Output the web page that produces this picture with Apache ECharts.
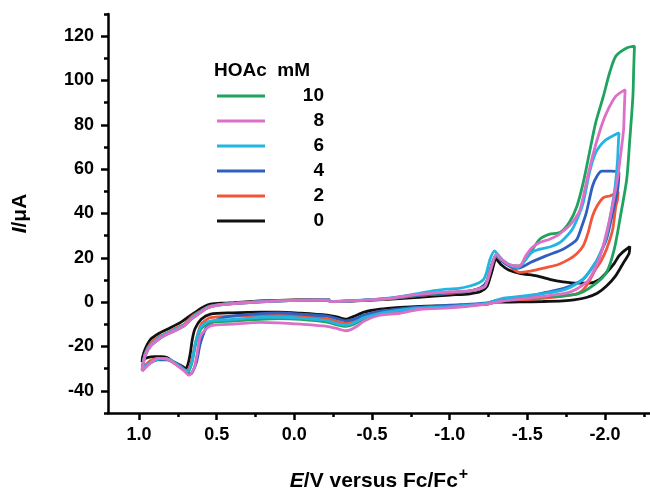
<!DOCTYPE html>
<html><head><meta charset="utf-8">
<script src="https://cdn.jsdelivr.net/npm/echarts@6/dist/echarts.min.js"></script>
<style>html,body{margin:0;padding:0;background:#fff}#c{width:650px;height:491px}</style>
</head><body><div id="c"></div>
<script>
// Concentrations of HOAc (mM), legend order
const legendOrder = ['10', '8', '6', '4', '2', '0'];
const xMajorTicks = [1.0, 0.5, 0.0, -0.5, -1.0, -1.5, -2.0];
const xMinorTicks = [0.75, 0.25, -0.25, -0.75, -1.25, -1.75, -2.25];
const yMajorTicks = [-40, -20, 0, 20, 40, 60, 80, 100, 120];
const yMinorTicks = [-50, -30, -10, 10, 30, 50, 70, 90, 110, 130];

// [E (V vs Fc/Fc+), I (uA)] traced around each closed CV loop
const mM0 = [[0.22,0.6],[0.0,1.0],[-0.22,1.2],[-0.23,0.3],[-0.4,0.6],[-0.6,1.3],[-0.8,2.2],[-1.0,3.2],[-1.13,3.8],[-1.2,4.8],[-1.24,7.0],[-1.27,13.4],[-1.30,19.4],[-1.33,17.0],[-1.38,14.5],[-1.45,13.0],[-1.56,11.9],[-1.65,10.2],[-1.73,9.2],[-1.82,8.6],[-1.90,8.6],[-1.96,10.0],[-2.01,13.4],[-2.06,17.5],[-2.09,20.9],[-2.13,23.5],[-2.16,25.1],[-2.155,22.0],[-2.12,17.9],[-2.07,12.0],[-2.01,7.3],[-1.95,4.0],[-1.88,2.1],[-1.80,1.0],[-1.73,0.6],[-1.60,0.3],[-1.45,0.1],[-1.30,0.0],[-1.24,-0.9],[-1.10,-1.3],[-1.0,-1.6],[-0.81,-1.9],[-0.68,-2.4],[-0.55,-3.2],[-0.45,-4.5],[-0.38,-6.5],[-0.33,-7.7],[-0.28,-6.8],[-0.21,-5.9],[-0.04,-5.0],[0.1,-4.5],[0.22,-4.5],[0.4,-4.8],[0.54,-5.4],[0.6,-7.7],[0.64,-12.0],[0.657,-16.7],[0.67,-23.0],[0.685,-28.0],[0.70,-29.8],[0.72,-29.0],[0.775,-27.0],[0.82,-25.0],[0.86,-24.6],[0.90,-24.6],[0.946,-25.0],[0.975,-26.0],[0.98,-27.0],[0.978,-25.0],[0.96,-21.0],[0.925,-16.7],[0.87,-14.0],[0.818,-12.2],[0.732,-9.1],[0.68,-6.5],[0.625,-3.9],[0.58,-2.0],[0.54,-0.9],[0.45,-0.4],[0.39,-0.2],[0.22,0.6]];
const mM2 = [[0.22,0.3],[0.0,0.9],[-0.22,1.1],[-0.23,0.3],[-0.4,0.7],[-0.6,1.5],[-0.8,3.0],[-1.0,4.0],[-1.13,5.0],[-1.2,6.5],[-1.24,9.0],[-1.27,16.0],[-1.30,21.0],[-1.33,19.0],[-1.38,16.5],[-1.45,13.4],[-1.52,14.0],[-1.62,15.6],[-1.70,17.0],[-1.77,19.4],[-1.82,22.0],[-1.86,25.4],[-1.89,31.0],[-1.92,38.9],[-1.95,43.5],[-1.99,47.2],[-2.03,47.9],[-2.06,48.8],[-2.085,49.9],[-2.08,46.0],[-2.07,43.4],[-2.05,32.9],[-2.01,23.9],[-1.97,18.0],[-1.94,14.9],[-1.88,7.3],[-1.82,3.8],[-1.71,2.5],[-1.54,1.4],[-1.40,1.0],[-1.30,0.2],[-1.24,-0.5],[-1.10,-1.4],[-1.0,-1.8],[-0.81,-2.4],[-0.68,-3.3],[-0.55,-4.2],[-0.45,-6.0],[-0.38,-8.5],[-0.33,-9.5],[-0.28,-8.8],[-0.21,-7.5],[-0.04,-6.3],[0.1,-5.8],[0.22,-5.9],[0.4,-6.3],[0.54,-7.0],[0.6,-10.0],[0.636,-18.2],[0.66,-26.0],[0.68,-30.0],[0.70,-31.0],[0.73,-29.0],[0.78,-27.0],[0.82,-25.5],[0.88,-25.4],[0.93,-26.5],[0.96,-28.5],[0.98,-30.0],[0.975,-28.0],[0.96,-23.0],[0.925,-18.5],[0.87,-15.5],[0.818,-13.8],[0.76,-11.5],[0.71,-10.0],[0.66,-6.5],[0.604,-4.0],[0.56,-2.2],[0.518,-1.5],[0.45,-0.8],[0.39,-0.5],[0.22,0.3]];
const mM4 = [[0.22,0.1],[0.0,0.8],[-0.22,1.0],[-0.23,0.3],[-0.4,0.7],[-0.6,1.6],[-0.8,3.1],[-1.0,4.2],[-1.13,5.0],[-1.2,6.5],[-1.24,9.5],[-1.27,16.5],[-1.30,21.0],[-1.33,19.0],[-1.38,16.5],[-1.43,15.2],[-1.47,16.0],[-1.52,17.9],[-1.62,20.9],[-1.73,23.9],[-1.79,26.5],[-1.82,28.4],[-1.85,34.0],[-1.88,40.4],[-1.92,52.4],[-1.95,57.0],[-1.98,59.1],[-2.04,59.1],[-2.09,58.5],[-2.088,55.0],[-2.08,50.0],[-2.05,40.4],[-2.01,28.4],[-1.97,22.0],[-1.94,17.9],[-1.86,10.4],[-1.75,6.6],[-1.62,4.4],[-1.52,2.8],[-1.42,2.0],[-1.30,0.8],[-1.24,-0.3],[-1.10,-1.0],[-1.0,-1.4],[-0.81,-2.2],[-0.68,-3.0],[-0.55,-4.2],[-0.45,-5.8],[-0.38,-7.8],[-0.33,-8.4],[-0.28,-7.5],[-0.21,-6.3],[-0.04,-5.4],[0.1,-4.8],[0.22,-5.2],[0.43,-6.5],[0.5,-8.0],[0.56,-10.7],[0.604,-18.2],[0.63,-27.0],[0.657,-31.7],[0.668,-32.4],[0.69,-31.5],[0.73,-29.0],[0.78,-27.0],[0.82,-26.0],[0.88,-26.0],[0.93,-27.5],[0.96,-29.5],[0.98,-31.0],[0.975,-28.5],[0.96,-24.0],[0.925,-19.7],[0.87,-16.5],[0.818,-14.4],[0.76,-12.5],[0.71,-10.7],[0.66,-7.5],[0.604,-4.6],[0.56,-2.6],[0.518,-1.7],[0.45,-1.0],[0.39,-0.6],[0.22,0.1]];
const mM6 = [[0.22,0.2],[0.0,0.8],[-0.22,1.0],[-0.23,0.3],[-0.4,0.8],[-0.55,1.5],[-0.68,2.5],[-0.81,4.1],[-0.9,5.2],[-0.98,5.9],[-1.06,6.2],[-1.13,7.3],[-1.19,8.8],[-1.22,10.4],[-1.24,14.0],[-1.26,19.4],[-1.29,23.1],[-1.31,21.5],[-1.35,18.5],[-1.40,16.2],[-1.44,15.6],[-1.49,19.4],[-1.53,22.5],[-1.58,23.9],[-1.65,25.0],[-1.71,26.9],[-1.75,29.5],[-1.79,32.9],[-1.83,39.0],[-1.86,44.9],[-1.90,58.4],[-1.94,67.4],[-1.98,71.5],[-2.01,73.4],[-2.05,75.0],[-2.09,76.4],[-2.085,70.0],[-2.08,62.9],[-2.065,52.0],[-2.05,44.9],[-2.01,29.9],[-1.97,22.0],[-1.94,17.9],[-1.86,10.4],[-1.75,5.9],[-1.60,3.8],[-1.45,2.6],[-1.35,1.8],[-1.30,0.8],[-1.24,-0.5],[-1.10,-1.5],[-1.0,-2.0],[-0.81,-2.6],[-0.68,-3.6],[-0.55,-5.0],[-0.45,-7.0],[-0.38,-9.5],[-0.33,-10.4],[-0.28,-9.8],[-0.21,-8.3],[-0.04,-7.2],[0.1,-6.8],[0.22,-6.9],[0.4,-7.8],[0.54,-8.5],[0.6,-11.0],[0.636,-18.2],[0.66,-27.0],[0.685,-31.2],[0.71,-30.5],[0.75,-28.5],[0.80,-26.0],[0.86,-25.5],[0.92,-27.0],[0.96,-29.0],[0.98,-30.5],[0.975,-28.0],[0.96,-23.5],[0.925,-19.2],[0.87,-16.0],[0.818,-14.0],[0.76,-12.0],[0.71,-10.4],[0.66,-7.0],[0.604,-4.3],[0.56,-2.4],[0.518,-1.6],[0.45,-0.9],[0.39,-0.5],[0.22,0.2]];
const mM8 = [[0.22,0.1],[0.0,0.8],[-0.22,1.0],[-0.23,0.2],[-0.4,0.7],[-0.6,1.6],[-0.81,3.6],[-1.0,4.6],[-1.13,5.1],[-1.2,6.2],[-1.23,7.3],[-1.26,14.0],[-1.30,21.6],[-1.33,19.5],[-1.38,17.0],[-1.45,16.4],[-1.49,20.9],[-1.53,24.5],[-1.58,26.9],[-1.64,28.3],[-1.69,29.9],[-1.73,32.0],[-1.77,34.4],[-1.81,38.0],[-1.84,41.9],[-1.88,53.9],[-1.92,65.9],[-1.97,77.9],[-2.01,85.4],[-2.07,92.9],[-2.13,95.9],[-2.125,88.0],[-2.12,77.9],[-2.10,66.0],[-2.08,55.4],[-2.03,37.4],[-1.97,20.9],[-1.92,13.0],[-1.88,8.9],[-1.77,4.4],[-1.64,3.0],[-1.50,1.8],[-1.40,1.0],[-1.30,0.0],[-1.24,-0.9],[-1.10,-2.0],[-1.0,-2.6],[-0.81,-3.2],[-0.68,-5.0],[-0.55,-5.9],[-0.45,-8.5],[-0.40,-11.0],[-0.36,-12.5],[-0.33,-12.9],[-0.28,-12.0],[-0.21,-10.9],[-0.04,-9.9],[0.1,-9.3],[0.22,-9.1],[0.39,-9.9],[0.54,-10.7],[0.604,-15.2],[0.625,-22.7],[0.647,-30.2],[0.679,-32.9],[0.71,-31.0],[0.753,-28.7],[0.818,-25.7],[0.88,-25.4],[0.946,-28.7],[0.978,-31.0],[0.975,-28.5],[0.96,-24.0],[0.925,-19.7],[0.87,-16.5],[0.818,-14.4],[0.76,-12.5],[0.71,-10.7],[0.66,-7.5],[0.604,-4.6],[0.56,-2.6],[0.518,-1.7],[0.45,-1.0],[0.39,-0.6],[0.22,0.1]];
const mM10 = [[0.22,0.1],[0.0,0.8],[-0.22,1.0],[-0.23,0.2],[-0.4,0.7],[-0.6,1.6],[-0.81,3.5],[-1.0,4.5],[-1.13,5.1],[-1.2,6.2],[-1.23,7.5],[-1.26,14.5],[-1.30,21.5],[-1.33,19.5],[-1.38,17.0],[-1.45,16.4],[-1.52,22.4],[-1.58,28.4],[-1.64,30.6],[-1.71,31.4],[-1.77,35.9],[-1.82,43.4],[-1.86,53.9],[-1.90,67.4],[-1.94,80.9],[-1.99,92.9],[-2.03,103.5],[-2.07,111.0],[-2.14,114.7],[-2.19,115.5],[-2.185,105.0],[-2.18,92.9],[-2.16,73.4],[-2.14,55.4],[-2.10,38.9],[-2.06,23.9],[-2.01,13.4],[-1.92,7.3],[-1.82,3.6],[-1.64,2.6],[-1.50,1.9],[-1.40,1.1],[-1.30,0.2],[-1.24,-0.7],[-1.10,-1.8],[-1.0,-2.3],[-0.81,-2.9],[-0.68,-4.2],[-0.55,-5.4],[-0.45,-7.5],[-0.38,-10.0],[-0.33,-10.9],[-0.28,-10.3],[-0.21,-9.0],[-0.04,-7.8],[0.1,-7.4],[0.22,-7.7],[0.4,-8.5],[0.54,-9.2],[0.6,-12.0],[0.636,-19.0],[0.66,-27.5],[0.685,-31.5],[0.71,-30.5],[0.75,-28.5],[0.80,-26.0],[0.86,-25.5],[0.92,-27.0],[0.96,-29.0],[0.98,-30.5],[0.975,-28.0],[0.96,-23.5],[0.925,-19.2],[0.87,-16.0],[0.818,-14.0],[0.76,-12.0],[0.71,-10.4],[0.66,-7.0],[0.604,-4.3],[0.56,-2.4],[0.518,-1.6],[0.45,-0.9],[0.39,-0.5],[0.22,0.1]];

const FONT = '"Liberation Sans", Arial, sans-serif';
const seriesDefs = [
  {name: '0', data: mM0, color: '#111111'},
  {name: '2', data: mM2, color: '#f2553a'},
  {name: '4', data: mM4, color: '#3060bf'},
  {name: '10', data: mM10, color: '#1fa35f'},
  {name: '6', data: mM6, color: '#22b5e2'},
  {name: '8', data: mM8, color: '#dc70c8'}
];

const X_MIN = -2.29, X_MAX = 1.2, Y_MIN = -50, Y_MAX = 130;
const tickStyle = {color: '#000', width: 2.5};
function tickXAxis(values, len) {
  return {type: 'value', inverse: true, min: X_MIN, max: X_MAX, position: 'bottom',
    splitLine: {show: false}, axisLine: {show: false, onZero: false},
    axisTick: {show: true, customValues: values, length: len, lineStyle: tickStyle},
    axisLabel: {show: false}};
}
function tickYAxis(values, len) {
  return {type: 'value', min: Y_MIN, max: Y_MAX, position: 'left',
    splitLine: {show: false}, axisLine: {show: false, onZero: false},
    axisTick: {show: true, customValues: values, length: len, lineStyle: tickStyle},
    axisLabel: {show: false}};
}

const chart = echarts.init(document.getElementById('c'), null, {renderer: 'canvas'});
chart.setOption({
  animation: false,
  backgroundColor: '#fff',
  grid: {left: 108, right: 0, top: 14, bottom: 78, containLabel: false, outerBoundsMode: 'none'},
  legend: {
    data: legendOrder, orient: 'vertical', left: 212, top: 81,
    icon: 'rect', itemWidth: 48, itemHeight: 3, itemGap: 5,
    textStyle: {
      fontFamily: FONT, fontWeight: 'bold', fontSize: 19, color: '#000', lineHeight: 20,
      rich: {n: {width: 54, align: 'right', fontFamily: FONT, fontWeight: 'bold', fontSize: 19, color: '#000'}}
    },
    formatter: n => '{n|' + n + '}'
  },
  graphic: [{
    type: 'text', left: 214, top: 61,
    style: {text: 'HOAc  mM', font: 'bold 19px ' + FONT, fill: '#000'}
  }],
  xAxis: [{
    type: 'value', inverse: true, min: X_MIN, max: X_MAX, position: 'bottom',
    splitLine: {show: false},
    axisLine: {onZero: false, lineStyle: {color: '#000', width: 2.5}},
    axisTick: {show: false},
    axisLabel: {customValues: xMajorTicks, formatter: v => v.toFixed(1), margin: 13,
      fontFamily: FONT, fontWeight: 'bold', fontSize: 18, color: '#000'},
    name: '{i|E}{n|/V versus Fc/Fc}{s|+}', nameLocation: 'middle', nameGap: 54,
    nameTextStyle: {rich: {
      i: {fontFamily: FONT, fontWeight: 'bold', fontStyle: 'italic', fontSize: 21, color: '#000'},
      n: {fontFamily: FONT, fontWeight: 'bold', fontSize: 21, color: '#000'},
      s: {fontFamily: FONT, fontWeight: 'bold', fontSize: 16, color: '#000', padding: [0, 0, 12, 1]}
    }}
  }, tickXAxis(xMajorTicks, 7), tickXAxis(xMinorTicks, 4)],
  yAxis: [{
    type: 'value', min: Y_MIN, max: Y_MAX, position: 'left',
    splitLine: {show: false},
    axisLine: {onZero: false, lineStyle: {color: '#000', width: 2.5}},
    axisTick: {show: false},
    axisLabel: {customValues: yMajorTicks, margin: 14,
      fontFamily: FONT, fontWeight: 'bold', fontSize: 18, color: '#000'},
    name: '{i|I}{n|/μA}', nameLocation: 'middle', nameGap: 77,
    nameTextStyle: {rich: {
      i: {fontFamily: FONT, fontWeight: 'bold', fontStyle: 'italic', fontSize: 21, color: '#000'},
      n: {fontFamily: FONT, fontWeight: 'bold', fontSize: 21, color: '#000'}
    }}
  }, tickYAxis(yMajorTicks, 7), tickYAxis(yMinorTicks, 4)],
  series: seriesDefs.map(s => ({
    name: s.name, type: 'line', data: s.data, xAxisIndex: 0, yAxisIndex: 0,
    showSymbol: false, symbol: 'none', smooth: 0.25,
    color: s.color, lineStyle: {color: s.color, width: 2.8}
  }))
});
</script></body></html>
